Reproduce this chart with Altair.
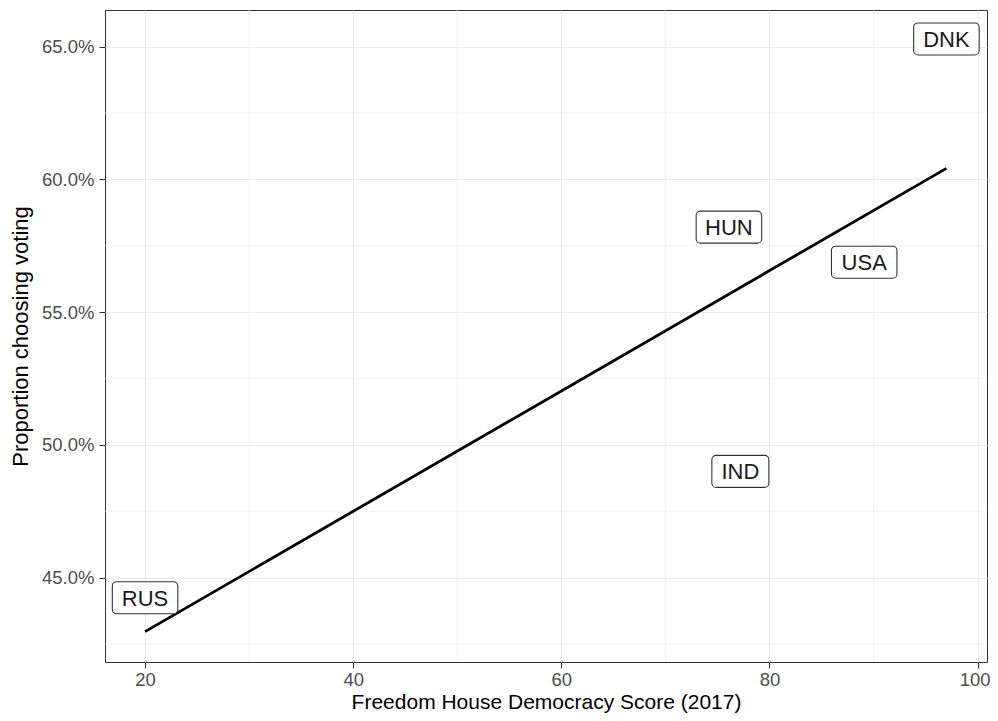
import altair as alt
import pandas as pd

# ---- data ----
countries = ["RUS", "HUN", "USA", "IND", "DNK"]
democracy = [20.0, 76.1, 89.1, 77.2, 97.0]
voting = [0.4424, 0.5820, 0.5688, 0.4900, 0.6529]

# ---- axis ticks / gridlines ----
x_major = [20, 40, 60, 80, 100]
y_major = [0.45, 0.50, 0.55, 0.60, 0.65]
x_minor = [30, 50, 70, 90]
y_minor = [0.425, 0.475, 0.525, 0.575, 0.625]
x_domain = [16.15, 100.9]
y_domain = [0.4182, 0.6638]

df = pd.DataFrame({"country": countries, "democracy": democracy, "voting": voting})

FONT = "Liberation Sans"


def rounded(hw, hh, r):
    return (f"M{-hw + r},{-hh} L{hw - r},{-hh} A{r},{r} 0 0 1 {hw},{-hh + r} "
            f"L{hw},{hh - r} A{r},{r} 0 0 1 {hw - r},{hh} L{-hw + r},{hh} "
            f"A{r},{r} 0 0 1 {-hw},{hh - r} L{-hw},{-hh + r} A{r},{r} 0 0 1 {-hw + r},{-hh} Z")


wide_box = rounded(1.0, 0.4885, 0.13)
narrow_box = rounded(0.87, 0.4885, 0.13)

xscale = alt.Scale(domain=x_domain, nice=False, zero=False)
yscale = alt.Scale(domain=y_domain, nice=False, zero=False)
xaxis = alt.Axis(values=x_major, title="Freedom House Democracy Score (2017)",
                 grid=True, labelPadding=2, titlePadding=3, titleFontSize=21,
                 labelOffset={"condition": {"test": "datum.value == 100", "value": -3}, "value": 0})
yaxis = alt.Axis(values=y_major, format=".1%", title="Proportion choosing voting",
                 grid=True, labelPadding=5, titlePadding=9)

X = alt.X("democracy:Q", scale=xscale, axis=xaxis)
Y = alt.Y("voting:Q", scale=yscale, axis=yaxis)

minor_x = alt.Chart(pd.DataFrame({"democracy": x_minor})).mark_rule(
    color="#EBEBEB", strokeWidth=0.6).encode(x=X)
minor_y = alt.Chart(pd.DataFrame({"voting": y_minor})).mark_rule(
    color="#EBEBEB", strokeWidth=0.6).encode(y=Y)

line = alt.Chart(df).transform_regression("democracy", "voting").mark_line(
    color="black", strokeWidth=2.8).encode(x=X, y=Y)

boxes = alt.Chart(df).mark_point(
    filled=True, fill="white", stroke="#333333", strokeWidth=1.1, opacity=1, size=4290
).encode(
    x=X, y=Y,
    shape=alt.condition(alt.datum.country == "IND", alt.value(narrow_box), alt.value(wide_box)),
)

labels = alt.Chart(df).mark_text(
    font=FONT, fontSize=22, color="#1a1a1a", baseline="middle", align="center", dy=1
).encode(x=X, y=Y, text="country:N")

chart = alt.layer(minor_x, minor_y, line, boxes, labels).properties(
    width=882, height=652,
    autosize=alt.AutoSizeParams(type="none"),
    padding={"left": 97, "top": 2, "right": 3, "bottom": 51},
).configure_view(
    stroke="#333333", strokeWidth=1
).configure_axis(
    domain=False, tickColor="#333333", tickSize=6, tickWidth=1.1,
    labelColor="#4D4D4D", labelFont=FONT, labelFontSize=18.5,
    titleFont=FONT, titleFontSize=22, titleColor="#000000", titleFontWeight="normal",
    gridColor="#EBEBEB", gridWidth=1.1,
)

chart.save("out.html", embed_options={"renderer": "svg", "actions": False})
